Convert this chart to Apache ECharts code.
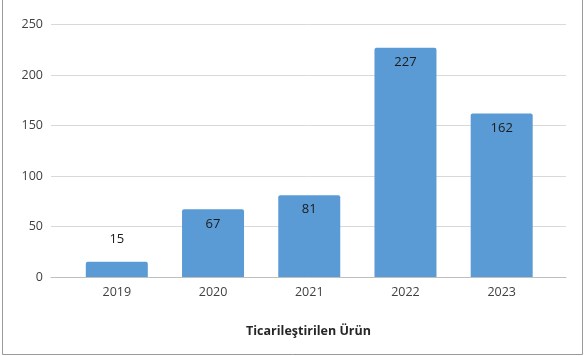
<!DOCTYPE html>
<html>
<head>
<meta charset="utf-8">
<script src="https://cdn.jsdelivr.net/npm/echarts@6/dist/echarts.min.js"></script>
<style>
html,body{margin:0;padding:0;background:#fff;}
#c{width:586px;height:356px;}
</style>
</head>
<body>
<div id="c"></div>
<script>
const years = ['2019', '2020', '2021', '2022', '2023'];
const values = [15, 67, 81, 227, 162];
const yTicks = [0, 50, 100, 150, 200, 250];
const axisTitle = 'Ticarileştirilen Ürün';

const FONT = '"Open Sans", sans-serif';
const chart = echarts.init(document.getElementById('c'), null, {renderer: 'canvas'});
chart.setOption({
  animation: false,
  backgroundColor: '#ffffff',
  graphic: [{
    type: 'rect', silent: true, z: 100,
    shape: {x: 2.5, y: -1, width: 580, height: 355.5},
    style: {fill: 'none', stroke: '#9a9a9a', lineWidth: 1}
  }],
  grid: [
    {left: 51, right: 20, top: 24.5, bottom: 79},
    {left: 68.7, right: 36.2, top: 24.5, bottom: 79}
  ],
  yAxis: [
    {
      gridIndex: 0, type: 'value', min: yTicks[0], max: yTicks[yTicks.length - 1], interval: 50,
      axisLine: {show: false}, axisTick: {show: false},
      axisLabel: {color: '#404040', fontSize: 12.5, fontFamily: FONT, margin: 8},
      splitLine: {lineStyle: {color: '#d9d9d9', width: 1}}
    },
    {
      gridIndex: 1, type: 'value', min: yTicks[0], max: yTicks[yTicks.length - 1], interval: 50,
      show: false, splitLine: {show: false}
    }
  ],
  xAxis: [
    {
      gridIndex: 0, type: 'value', min: 0, max: 1,
      axisLine: {show: true, onZero: false, lineStyle: {color: '#bfbfbf', width: 1}},
      axisTick: {show: false}, axisLabel: {show: false}, splitLine: {show: false},
      name: axisTitle, nameLocation: 'middle', nameGap: 48,
      nameTextStyle: {color: '#262626', fontSize: 12.5, fontWeight: 'bold', fontFamily: FONT}
    },
    {
      gridIndex: 1, type: 'category', data: years,
      axisLine: {show: false}, axisTick: {show: false},
      axisLabel: {color: '#404040', fontSize: 12.5, fontFamily: FONT, margin: 9}
    }
  ],
  series: [{
    type: 'bar',
    xAxisIndex: 1, yAxisIndex: 1,
    barWidth: 62,
    itemStyle: {color: '#5b9bd5', borderRadius: [2, 2, 0, 0]},
    label: {
      show: true, position: 'insideTop', distance: 8,
      color: '#1a1a1a', fontSize: 13, fontFamily: FONT
    },
    data: values.map(v => v < 30
      ? {value: v, label: {position: 'top', distance: 16}}
      : v)
  }]
});
</script>
</body>
</html>
